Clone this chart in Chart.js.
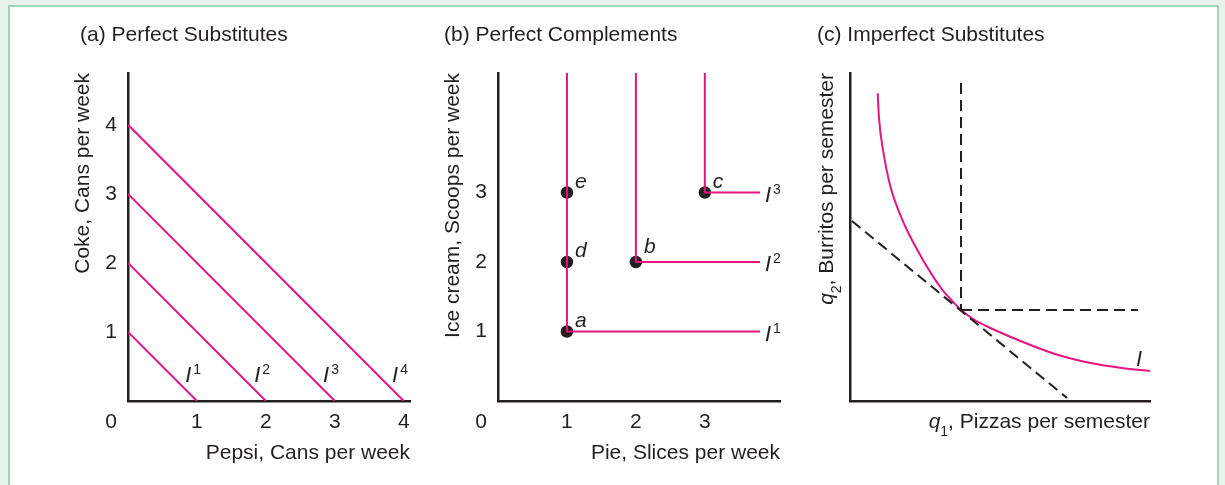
<!DOCTYPE html>
<html><head><meta charset="utf-8">
<script src="https://cdn.jsdelivr.net/npm/chart.js@4.4.1/dist/chart.umd.min.js"></script>
<style>
html,body{margin:0;padding:0;width:1225px;height:485px;overflow:hidden;background:#e9f3ee;}
#frame{position:absolute;left:8px;top:5px;width:1207px;height:520px;background:#fff;border:2px solid #a0d6bb;}
canvas{position:absolute;top:0;}
</style></head><body>
<div id="frame"></div>
<canvas id="ca" width="410" height="485" style="left:20px"></canvas>
<canvas id="cb" width="380" height="485" style="left:420px"></canvas>
<canvas id="cc" width="420" height="485" style="left:800px"></canvas>
<script>
// ---------- Panel (a) Perfect Substitutes ----------
const subsTitle = '(a) Perfect Substitutes';
const subsXTitle = 'Pepsi, Cans per week';
const subsYTitle = 'Coke, Cans per week';
const subsXTicks = [1, 2, 3, 4];
const subsYTicks = [1, 2, 3, 4];
const subsI1 = [{x: 0, y: 1}, {x: 1, y: 0}];
const subsI2 = [{x: 0, y: 2}, {x: 2, y: 0}];
const subsI3 = [{x: 0, y: 3}, {x: 3, y: 0}];
const subsI4 = [{x: 0, y: 4}, {x: 4, y: 0}];
const subsCurveIndex = ['1', '2', '3', '4'];
const subsCurveIntercepts = [1, 2, 3, 4];
const subsXMax = 4.09, subsYMax = 4.75;

// ---------- Panel (b) Perfect Complements ----------
const compTitle = '(b) Perfect Complements';
const compXTitle = 'Pie, Slices per week';
const compYTitle = 'Ice cream, Scoops per week';
const compXTicks = [1, 2, 3];
const compYTicks = [1, 2, 3];
const compXMax = 4.09, compYMax = 4.72;
const compI1 = [{x: 1, y: 4.72}, {x: 1, y: 1}, {x: 3.8, y: 1}];
const compI2 = [{x: 2, y: 4.72}, {x: 2, y: 2}, {x: 3.8, y: 2}];
const compI3 = [{x: 3, y: 4.72}, {x: 3, y: 3}, {x: 3.8, y: 3}];
const compCurveIndex = ['1', '2', '3'];
const compCurveLevels = [1, 2, 3];
const compBundleX = [1, 1, 1, 2, 3];
const compBundleY = [1, 2, 3, 2, 3];
const compBundleNames = ['a', 'd', 'e', 'b', 'c'];

// ---------- Panel (c) Imperfect Substitutes ----------
const imperfTitle = '(c) Imperfect Substitutes';
const imperfXMax = 300, imperfYMax = 328;
const imperfQ1 = [27.7, 29, 33.3, 40, 51.7, 68.3, 91.7, 100, 111, 124, 138.3, 171.7, 205, 238, 271.7, 300];
const imperfQ2 = [307.7, 283, 249.3, 216, 182.7, 149.3, 112, 102.5, 91, 81.5, 74, 59.5, 47, 38.5, 33, 30];
const budgetQ1 = [2, 217];
const budgetQ2 = [180, 3];
const optimumQ1 = 111, optimumQ2 = 91;
const guideTopQ2 = 318, guideEndQ1 = 288;
const imperfLabelQ1 = 286, imperfLabelQ2 = 35;

// ---------- styling ----------
const FONT = "'Liberation Sans', Arial, Helvetica, sans-serif";
const INK = '#231f20';
const MAG = '#e6147f';
const FS = 21;
const XPAD = 9;

function zip(xs, ys) { return xs.map((x, i) => ({x, y: ys[i]})); }

function txt(ctx, s, x, y, size, o = {}) {
  ctx.save();
  ctx.font = (o.italic ? 'italic ' : '') + size + 'px ' + FONT;
  ctx.fillStyle = INK;
  ctx.textAlign = o.align || 'left';
  ctx.textBaseline = o.baseline || 'alphabetic';
  ctx.fillText(s, x, y);
  const w = ctx.measureText(s).width;
  ctx.restore();
  return w;
}
function measure(ctx, s, size, italic) {
  ctx.save();
  ctx.font = (italic ? 'italic ' : '') + size + 'px ' + FONT;
  const w = ctx.measureText(s).width;
  ctx.restore();
  return w;
}
function labelI(ctx, x, y, sup) {
  const w = txt(ctx, 'I', x, y, 22, {italic: true});
  if (sup) txt(ctx, sup, x + w + 2, y - 8, 14);
}
// parts: [text, size, italic, dy]
function drawRuns(ctx, parts, x, y) {
  let cx = x;
  for (const p of parts) { cx += txt(ctx, p[0], cx, y + (p[3] || 0), p[1], {italic: p[2]}); }
}
function runsWidth(ctx, parts) { return parts.reduce((s, p) => s + measure(ctx, p[0], p[1], p[2]), 0); }

function axis(max, tickVals, size, title, tickPad, horizontal) {
  const cfg = {
    type: 'linear', min: 0, max,
    grid: {display: false, drawTicks: false},
    border: {display: true, color: INK, width: 2.5},
    ticks: {display: !!tickVals, font: {family: FONT, size: FS}, color: INK, padding: tickPad},
    afterFit: (s) => { if (s.isHorizontal()) s.height = size; else s.width = size; },
    title: {display: false}
  };
  if (tickVals) cfg.afterBuildTicks = (s) => { s.ticks = tickVals.map(v => ({value: v})); };
  if (title) {
    cfg.title = {display: true, text: title, align: 'end', color: INK, font: {family: FONT, size: FS},
      padding: horizontal ? {top: 0, bottom: 9} : {top: 11, bottom: 0}};
  }
  return cfg;
}
function lineDs(data, color, width, dash) {
  return {data, showLine: true, borderColor: color, borderWidth: width, borderDash: dash || [],
    pointRadius: 0, pointHoverRadius: 0, fill: false, tension: 0};
}
function baseOptions(padding, scales) {
  return {
    responsive: false, animation: false, devicePixelRatio: 1,
    layout: {padding},
    plugins: {legend: {display: false}, tooltip: {enabled: false}, title: {display: false}},
    events: [],
    scales
  };
}
function originZero(ctx, chart) {
  const xs = chart.scales.x, ys = chart.scales.y;
  txt(ctx, '0', ys.right - 11, xs.top + XPAD + FS * 0.6, FS, {align: 'right', baseline: 'middle'});
}

// ---------- Chart (a) ----------
new Chart(document.getElementById('ca'), {
  type: 'scatter',
  data: {datasets: [subsI1, subsI2, subsI3, subsI4].map(d => lineDs(d, MAG, 2))},
  options: baseOptions({left: 40, top: 73, right: 20, bottom: 10}, {
    x: axis(subsXMax, subsXTicks, 74, subsXTitle, XPAD, true),
    y: axis(subsYMax, subsYTicks, 68, subsYTitle, 11, false)
  }),
  plugins: [{id: 'annA', afterDraw(chart) {
    const ctx = chart.ctx, xs = chart.scales.x, ys = chart.scales.y;
    txt(ctx, subsTitle, 60, 40.5, FS);
    originZero(ctx, chart);
    subsCurveIntercepts.forEach((k, i) => {
      labelI(ctx, xs.getPixelForValue(k - 0.17), ys.getPixelForValue(0.28), subsCurveIndex[i]);
    });
  }}]
});

// ---------- Chart (b) ----------
new Chart(document.getElementById('cb'), {
  type: 'scatter',
  data: {datasets: [
    ...[compI1, compI2, compI3].map(d => lineDs(d, MAG, 2)),
    {data: zip(compBundleX, compBundleY), showLine: false, pointRadius: 5.5, pointBorderWidth: 1.5,
     pointBackgroundColor: INK, pointBorderColor: INK, pointHoverRadius: 5.5}
  ]},
  options: baseOptions({left: 10, top: 73, right: 20, bottom: 10}, {
    x: axis(compXMax, compXTicks, 74, compXTitle, XPAD, true),
    y: axis(compYMax, compYTicks, 68, compYTitle, 11, false)
  }),
  plugins: [{id: 'annB', afterDraw(chart) {
    const ctx = chart.ctx, xs = chart.scales.x, ys = chart.scales.y;
    txt(ctx, compTitle, 24, 40.5, FS);
    originZero(ctx, chart);
    compCurveLevels.forEach((lv, i) => {
      labelI(ctx, xs.getPixelForValue(3.8) + 5, ys.getPixelForValue(lv) + 9, compCurveIndex[i]);
    });
    compBundleNames.forEach((n, i) => {
      const px = xs.getPixelForValue(compBundleX[i]), py = ys.getPixelForValue(compBundleY[i]);
      txt(ctx, n, px + 8, py + (n === 'b' ? -9 : -5), FS, {italic: true});
    });
  }}]
});

// ---------- Chart (c) ----------
new Chart(document.getElementById('cc'), {
  type: 'scatter',
  data: {datasets: [
    lineDs([{x: optimumQ1, y: guideTopQ2}, {x: optimumQ1, y: optimumQ2}], INK, 2, [11, 6]),
    lineDs([{x: optimumQ1, y: optimumQ2}, {x: guideEndQ1, y: optimumQ2}], INK, 2, [11, 6]),
    lineDs(zip(budgetQ1, budgetQ2), INK, 2, [11, 6]),
    Object.assign(lineDs(zip(imperfQ1, imperfQ2), MAG, 2), {cubicInterpolationMode: 'monotone'})
  ]},
  options: baseOptions({left: 10, top: 73, right: 70, bottom: 10}, {
    x: axis(imperfXMax, null, 74, null, XPAD, true),
    y: axis(imperfYMax, null, 40, null, 11, false)
  }),
  plugins: [{id: 'annC', afterDraw(chart) {
    const ctx = chart.ctx, a = chart.chartArea, xs = chart.scales.x, ys = chart.scales.y;
    txt(ctx, imperfTitle, 17, 40.5, FS);
    const xParts = [['q', FS, true], ['1', 14, false, 8], [', Pizzas per semester', FS, false]];
    drawRuns(ctx, xParts, a.right - runsWidth(ctx, xParts), a.bottom + 27);
    const yParts = [['q', FS, true], ['2', 14, false, 8], [', Burritos per semester', FS, false]];
    ctx.save();
    ctx.translate(a.left - 17, a.top);
    ctx.rotate(-Math.PI / 2);
    drawRuns(ctx, yParts, -runsWidth(ctx, yParts), 0);
    ctx.restore();
    txt(ctx, 'I', xs.getPixelForValue(imperfLabelQ1), ys.getPixelForValue(imperfLabelQ2), 22, {italic: true});
  }}]
});
</script>
</body></html>
